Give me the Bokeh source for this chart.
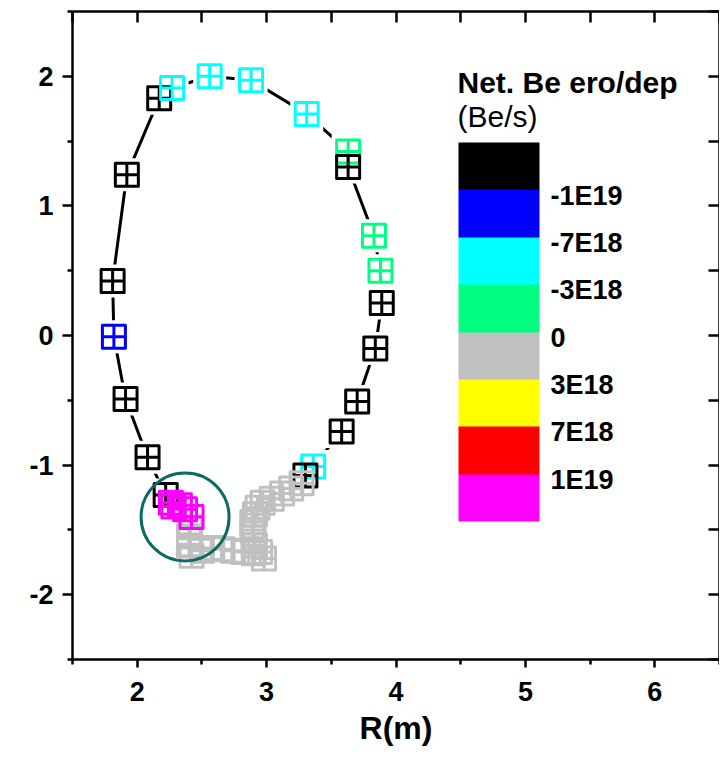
from bokeh.plotting import figure
from bokeh.models import (LinearAxis, FixedTicker, ColorBar, LinearColorMapper,
                          Label, Range1d, ColumnDataSource)
from bokeh.transform import transform
from bokeh.embed import file_html
from bokeh.resources import INLINE

# ---------------- data ----------------
R_m = [2.22, 2.08, 1.91, 1.82, 1.81, 1.92, 2.17, 2.27, 2.56, 2.88, 3.31, 3.63, 3.63,
       3.83, 3.88, 3.89, 3.84, 3.70, 3.58, 3.36, 3.30,
       3.27, 3.19, 3.12, 3.04, 2.97, 2.93, 2.91, 2.89, 2.89, 2.90, 2.91, 2.95, 2.98,
       2.90, 2.82, 2.74, 2.66, 2.58, 2.50, 2.42, 2.40, 2.40, 2.41,
       2.42, 2.37, 2.33, 2.28, 2.26]
Z_m = [-1.23, -0.94, -0.49, -0.01, 0.42, 1.24, 1.83, 1.91, 2.00, 1.97, 1.71, 1.42, 1.30,
       0.77, 0.50, 0.25, -0.10, -0.51, -0.74, -1.01, -1.08,
       -1.14, -1.18, -1.22, -1.26, -1.29, -1.33, -1.38, -1.44, -1.50, -1.56, -1.62, -1.67, -1.72,
       -1.68, -1.67, -1.66, -1.65, -1.64, -1.66, -1.70, -1.62, -1.55, -1.48,
       -1.40, -1.34, -1.31, -1.32, -1.29]
# colour class of each tile (0 = most deposition ... 7 = most erosion)
tile_class = [7, 7, 7, 6, 7, 7, 7, 5, 5, 5, 5, 4, 7,
              4, 4, 7, 7, 7, 7, 5, 7,
              3, 3, 3, 3, 3, 3, 3, 3, 3, 3, 3, 3, 3,
              3, 3, 3, 3, 3, 3, 3, 3, 3, 3,
              0, 0, 0, 0, 0]

class_palette = ["#FF00FF", "#FF0000", "#FFFF00", "#C0C0C0",
                 "#00FF80", "#00FFFF", "#0000FF", "#000000"]
boundary_ticks = [1, 2, 3, 4, 5, 6, 7]
boundary_labels = ["1E19", "7E18", "3E18", "0", "-3E18", "-7E18", "-1E19"]

x_major = [2, 3, 4, 5, 6]
x_minor = [1.5, 2.5, 3.5, 4.5, 5.5, 6.5]
y_major = [-2, -1, 0, 1, 2]
y_major_labels = ["-2", "-1", "0", "1", "2"]
y_minor = [-2.5, -1.5, -0.5, 0.5, 1.5, 2.5]
x_all = [1.5, 2, 2.5, 3, 3.5, 4, 4.5, 5, 5.5, 6, 6.5]
y_all = [-2.5, -2, -1.5, -1, -0.5, 0, 0.5, 1, 1.5, 2, 2.5]

circle_R, circle_Z, circle_r = 2.37, -1.40, 0.34

FONT = "Liberation Sans"
LABEL_SHIFT = 0.12   # colour-scale labels sit slightly below each boundary

src = ColumnDataSource(dict(R=R_m, Z=Z_m, lvl=[c + 0.5 for c in tile_class]))
mapper = LinearColorMapper(palette=class_palette, low=0, high=8)

p = figure(frame_width=647, frame_height=648, output_backend="svg", toolbar_location=None,
           x_range=Range1d(1.5, 6.5), y_range=Range1d(-2.5, 2.5),
           min_border_left=72, min_border_top=11, min_border_right=0, min_border_bottom=8,
           background_fill_color="white", border_fill_color="white")
p.outline_line_color = None
p.grid.visible = False

xa = p.xaxis[0]
xa.ticker = FixedTicker(ticks=x_major, minor_ticks=x_minor)
xa.axis_label = "R(m)"
ya = p.yaxis[0]
ya.ticker = FixedTicker(ticks=y_major, minor_ticks=y_minor)
ya.major_label_overrides = {t: s for t, s in zip(y_major, y_major_labels)}
for ax in (xa, ya):
    ax.axis_line_width = 2.5
    ax.axis_line_color = "black"
    ax.major_tick_line_width = 2.5
    ax.minor_tick_line_width = 2.5
    ax.major_tick_in = 0
    ax.minor_tick_in = 0
    ax.minor_tick_out = 5
    ax.major_label_text_font = FONT
    ax.major_label_text_font_style = "bold"
    ax.major_label_text_font_size = "27px"
    ax.major_label_text_color = "black"
    ax.axis_label_text_font = FONT
    ax.axis_label_text_font_style = "bold"
    ax.axis_label_text_font_size = "32px"
    ax.axis_label_text_color = "black"
xa.major_tick_out = 8
xa.major_label_standoff = 14
xa.axis_label_standoff = 6
ya.major_tick_out = 10
ya.major_label_standoff = 9

# top and right axes: inward ticks, no labels
for side, ticks in (("above", x_all), ("right", y_all)):
    ax = LinearAxis(ticker=FixedTicker(ticks=ticks, minor_ticks=[]))
    ax.axis_line_width = 2.5
    ax.axis_line_color = "black"
    ax.major_tick_line_width = 2.5
    ax.major_tick_in = 11
    ax.major_tick_out = 0
    ax.minor_tick_in = 0
    ax.minor_tick_out = 0
    ax.major_label_overrides = {t: "" for t in ticks}
    ax.major_label_text_font_size = "1px"
    ax.major_label_standoff = 0
    p.add_layout(ax, side)

# connecting line
p.line("R", "Z", source=src, line_color="black", line_width=3)
# white halos so the line stops short of the symbols
p.scatter("R", "Z", source=src, marker="square", size=33, fill_color="white",
          line_color=None)
# symbols
p.scatter("R", "Z", source=src, marker="square_cross", size=23, fill_color=None,
          line_color=transform("lvl", mapper), line_width=3, line_join="round")

# highlight circle
p.circle(x=[circle_R], y=[circle_Z], radius=circle_r, fill_color=None,
         line_color="#0b6b60", line_width=3)

# colour scale
label_pos = [t - LABEL_SHIFT for t in boundary_ticks]
cb = ColorBar(color_mapper=mapper, ticker=FixedTicker(ticks=label_pos),
              major_label_overrides={t: s for t, s in zip(label_pos, boundary_labels)},
              width=81, height=379, location=(386, 138), padding=0, margin=0,
              label_standoff=11, major_tick_line_color=None, minor_tick_line_color=None,
              bar_line_color=None, border_line_color=None, background_fill_alpha=0,
              major_label_text_font=FONT, major_label_text_font_style="bold",
              major_label_text_font_size="27px", major_label_text_color="black")
p.add_layout(cb)

p.add_layout(Label(x=385, y=577, x_units="screen", y_units="screen",
                   text="Net. Be ero/dep", text_font=FONT, text_font_style="bold",
                   text_font_size="30px", text_baseline="alphabetic", text_color="black"))
p.add_layout(Label(x=385, y=543, x_units="screen", y_units="screen",
                   text="(Be/s)", text_font=FONT, text_font_style="normal",
                   text_font_size="30px", text_baseline="alphabetic", text_color="black"))

open("out.html", "w").write(file_html(p, INLINE))
